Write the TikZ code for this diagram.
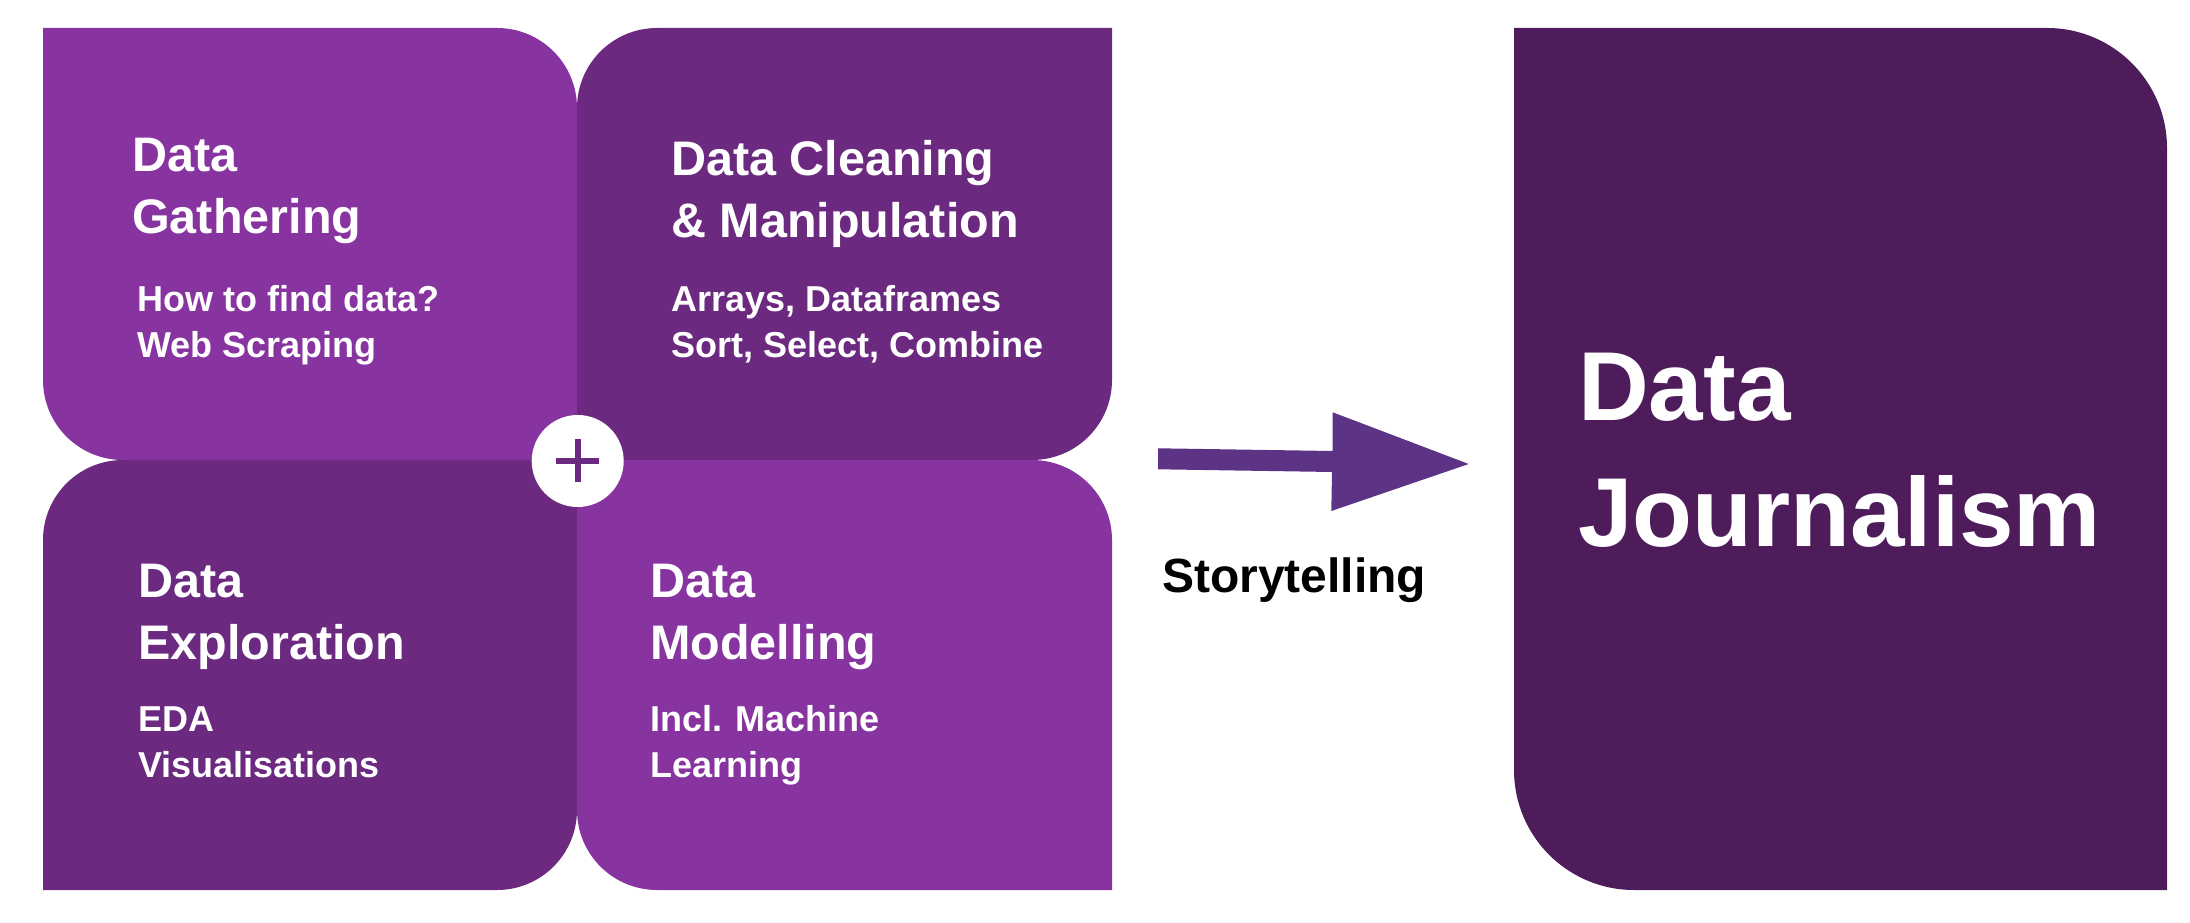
\documentclass[tikz,border=0pt]{standalone}
\usepackage{fontspec}
\setmainfont{Liberation Sans}
\definecolor{lightpurple}{RGB}{136,52,160}
\definecolor{darkpurple}{RGB}{108,41,128}
\definecolor{deeppurple}{RGB}{78,28,91}
\definecolor{arrowpurple}{RGB}{93,52,133}
\tikzset{
  titletext/.style={anchor=base west,inner sep=0pt,text=white,align=left,font=\bfseries\fontsize{48.5}{62}\selectfont},
  subtext/.style={anchor=base west,inner sep=0pt,text=white,align=left,font=\bfseries\fontsize{36}{46.3}\selectfont},
  bigtext/.style={anchor=base west,inner sep=0pt,text=white,align=left,font=\bfseries\fontsize{98}{126.5}\selectfont},
}
\begin{document}
\begin{tikzpicture}[x=1pt,y=1pt]
\useasboundingbox (0,0) rectangle (2190,922);
% quadrant boxes
\fill[lightpurple] (43,894) -- (497,894) arc[start angle=90,end angle=0,radius=80] -- (577,462) -- (123,462) arc[start angle=270,end angle=180,radius=80] -- cycle;
\fill[darkpurple] (577,462) -- (577,814) arc[start angle=180,end angle=90,radius=80] -- (1112,894) -- (1112,542) arc[start angle=0,end angle=-90,radius=80] -- cycle;
\fill[darkpurple] (43,32) -- (43,382) arc[start angle=180,end angle=90,radius=80] -- (577,462) -- (577,112) arc[start angle=0,end angle=-90,radius=80] -- cycle;
\fill[lightpurple] (577,462) -- (1032,462) arc[start angle=90,end angle=0,radius=80] -- (1112,32) -- (657,32) arc[start angle=270,end angle=180,radius=80] -- cycle;
% big box
\fill[deeppurple] (1514,894) -- (2047,894) arc[start angle=90,end angle=0,radius=120] -- (2167,32) -- (1634,32) arc[start angle=270,end angle=180,radius=120] -- cycle;
% plus circle
\node[circle,fill=white,minimum size=92pt,inner sep=0pt] (plus) at (577.7,461) {};
\fill[darkpurple] ([xshift=-21.5pt,yshift=-3pt]plus.center) rectangle ([xshift=21.5pt,yshift=3pt]plus.center);
\fill[darkpurple] ([xshift=-3pt,yshift=-21.5pt]plus.center) rectangle ([xshift=3pt,yshift=21.5pt]plus.center);
% texts (base anchor = baseline of last line)
\node[titletext] (t1) at (132,688.5) {Data\\Gathering};
\node[subtext] (s1) at (137,564.4) {How to find data?\\Web Scraping};
\node[titletext] (t2) at (671,684) {Data Cleaning\\\& Manipulation};
\node[subtext] (s2) at (671,564) {Arrays, Dataframes\\Sort, Select, Combine};
\node[titletext] (t3) at (138,263) {Data\\Exploration};
\node[subtext] (s3) at (138,144.4) {EDA\\Visualisations};
\node[titletext] (t4) at (650,263) {Data\\Modelling};
\node[subtext] (s4) at (650,144.4) {Incl. Machine\\Learning};
\node[bigtext] (big) at (1578,375) {Data\\Journalism};
% arrow
\fill[arrowpurple] (1158,473.7) -- (1332.7,471) -- (1332.7,509.7) -- (1468.7,458) -- (1331.3,411) -- (1332,450) -- (1158,452.7) -- cycle;
\node[anchor=base west,inner sep=0pt,font=\bfseries\fontsize{48}{58}\selectfont] (story) at (1162,329) {Storytelling};
\end{tikzpicture}
\end{document}
